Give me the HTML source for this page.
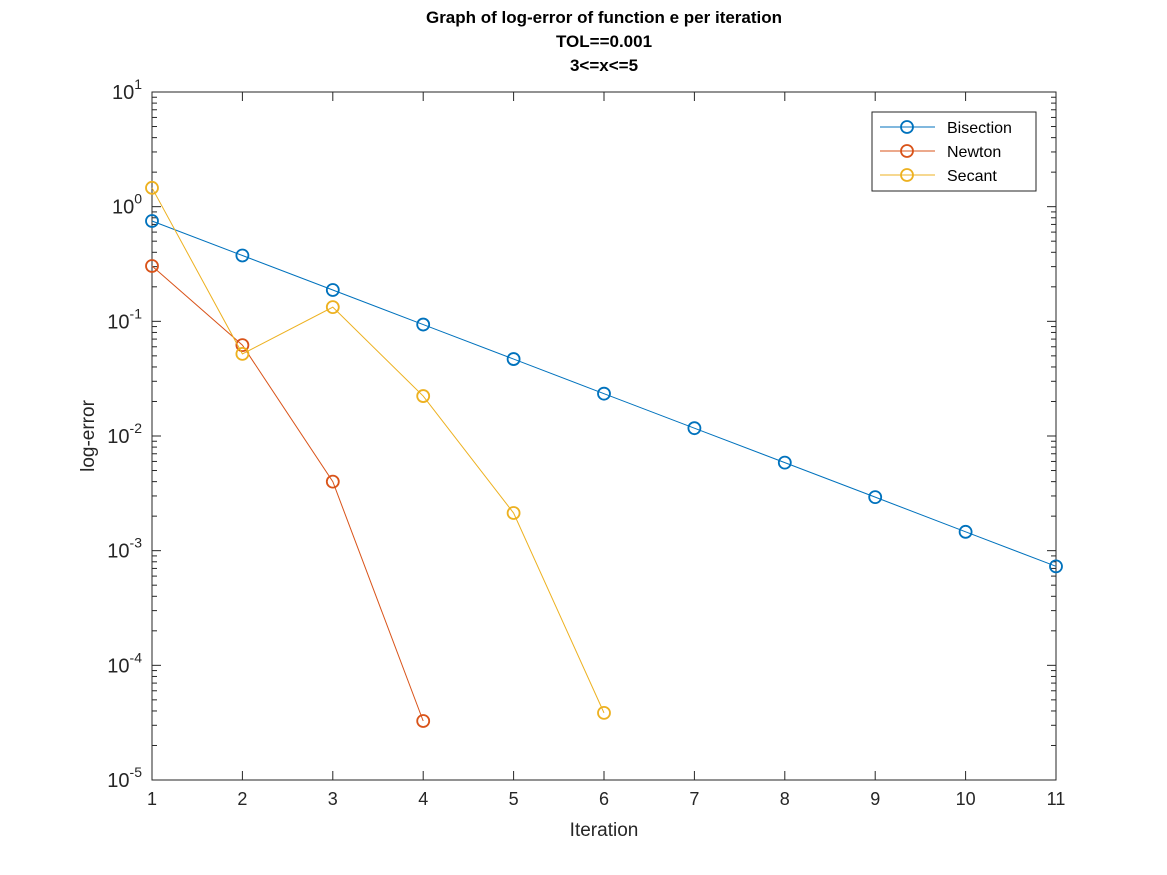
<!DOCTYPE html>
<html><head><meta charset="utf-8"><style>
html,body{margin:0;padding:0;background:#fff;}
svg{display:block;font-family:"Liberation Sans",sans-serif;}
</style></head><body>
<svg id="chart" width="1167" height="875" viewBox="0 0 1167 875">
<rect width="1167" height="875" fill="#fff"/>
<g font-weight="bold" font-size="17" text-anchor="middle" fill="#000">
<text x="604" y="23">Graph of log-error of function e per iteration</text>
<text x="604" y="47">TOL==0.001</text>
<text x="604" y="71">3&lt;=x&lt;=5</text>
</g>
<g id="axes"></g>
<g id="series"></g>
<g id="legend"></g>
</svg>
<script>
const xTicks=[1,2,3,4,5,6,7,8,9,10,11];
const yExps=[-5,-4,-3,-2,-1,0,1];
const bisX=[1,2,3,4,5,6,7,8,9,10,11];
const bisY=[0.75,0.375,0.1875,0.09375,0.046875,0.0234,0.0117,0.00586,0.00293,0.00146,0.00073];
const newX=[1,2,3,4];
const newY=[0.304,0.062,0.0040,3.27e-5];
const secX=[1,2,3,4,5,6];
const secY=[1.46,0.052,0.133,0.0223,0.00213,3.85e-5];
const seriesNames=["Bisection","Newton","Secant"];
const colors=["#0072BD","#D95319","#EDB120"];

const NS="http://www.w3.org/2000/svg";
const L=152,R=1056,T=92,B=780;
const xs=v=>L+(v-1)/(11-1)*(R-L);
const ys=v=>B-(Math.log10(v)+5)/6*(B-T);
function mk(tag,at,parent){const e=document.createElementNS(NS,tag);for(const k in at)e.setAttribute(k,at[k]);parent.appendChild(e);return e;}
const axes=document.getElementById('axes');
const box=mk('rect',{x:L,y:T,width:R-L,height:B-T,fill:'#fff',stroke:'#262626','stroke-width':1},axes);


xTicks.forEach(t=>{
 const x=xs(t);
 mk('line',{x1:x,x2:x,y1:B,y2:B-9,stroke:'#262626'},axes);
 mk('line',{x1:x,x2:x,y1:T,y2:T+9,stroke:'#262626'},axes);
 const tx=mk('text',{x:x,y:B+25,'font-size':18,'text-anchor':'middle',fill:'#262626'},axes);
 tx.textContent=t;
 
 
});
yExps.forEach(e=>{
 const y=ys(Math.pow(10,e));
 mk('line',{x1:L,x2:L+9,y1:y,y2:y,stroke:'#262626'},axes);
 mk('line',{x1:R,x2:R-9,y1:y,y2:y,stroke:'#262626'},axes);
 if(e<1){for(let m=2;m<10;m++){const yy=ys(m*Math.pow(10,e));
  mk('line',{x1:L,x2:L+5,y1:yy,y2:yy,stroke:'#262626'},axes);
  mk('line',{x1:R,x2:R-5,y1:yy,y2:yy,stroke:'#262626'},axes);}}
 const tx=mk('text',{x:L-10,y:y+7,'font-size':20,'text-anchor':'end',fill:'#262626'},axes);
 tx.innerHTML='10<tspan dy="-10" font-size="14">'+e+'</tspan>';
 
 
});
const xl=mk('text',{x:(L+R)/2,y:836,'font-size':19,'text-anchor':'middle',fill:'#262626'},axes);
xl.textContent='Iteration';


const yl=mk('text',{x:0,y:0,'font-size':19,'text-anchor':'middle',fill:'#262626',transform:'translate(94,436) rotate(-90)'},axes);
yl.textContent='log-error';



const sg=document.getElementById('series');
[[bisX,bisY],[newX,newY],[secX,secY]].forEach((s,i)=>{
 const g=mk('g',{},sg);
 
 
 const pts=s[0].map((x,j)=>xs(x)+','+ys(s[1][j])).join(' ');
 mk('polyline',{points:pts,fill:'none',stroke:colors[i],'stroke-width':1},g);
 s[0].forEach((x,j)=>{
  const c=mk('circle',{cx:xs(x),cy:ys(s[1][j]),r:6,fill:'none',stroke:colors[i],'stroke-width':1.8},g);
  
  
 });
});
const lg=document.getElementById('legend');


mk('rect',{x:872,y:112,width:164,height:79,fill:'#fff',stroke:'#262626','stroke-width':1},lg);
seriesNames.forEach((n,i)=>{
 const y=127+i*24;
 const g=mk('g',{},lg);
 
 
 mk('line',{x1:880,x2:935,y1:y,y2:y,stroke:colors[i]},g);
 mk('circle',{cx:907,cy:y,r:6,fill:'none',stroke:colors[i],'stroke-width':1.8},g);
 const t=mk('text',{x:947,y:y+6,'font-size':16,fill:'#000'},g);
 t.textContent=n;
});
</script>
</body></html>
